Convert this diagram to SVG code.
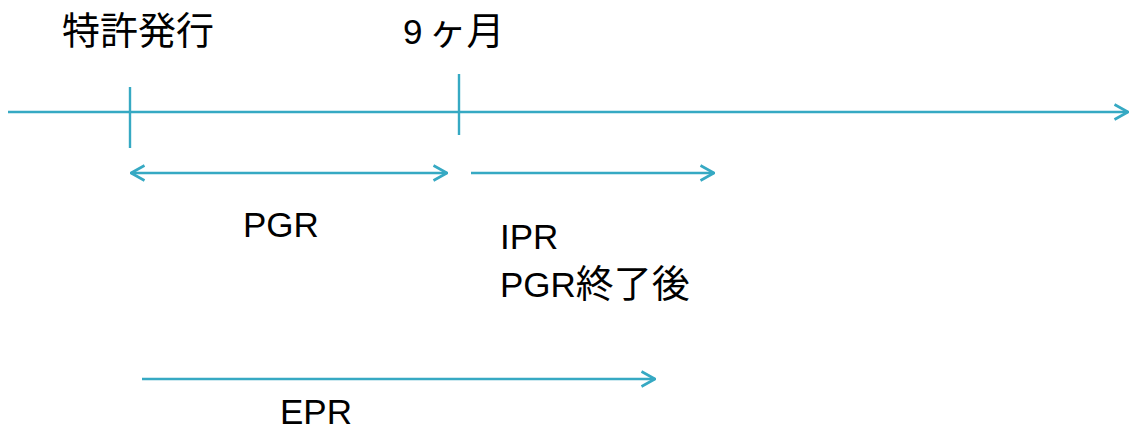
<svg xmlns="http://www.w3.org/2000/svg" width="1130" height="434" viewBox="0 0 1130 434">
<style>
.ln{stroke:#36A9C3;stroke-width:2.4;fill:none}
.t{font-family:"Liberation Sans","Noto Sans CJK JP",sans-serif;font-size:35px;fill:#000}
.j{font-family:"Noto Sans CJK JP",sans-serif;font-size:38px}
</style>
<defs>
<marker id="ah" viewBox="0 0 16 18" refX="15" refY="9" markerWidth="16" markerHeight="18" markerUnits="userSpaceOnUse" orient="auto-start-reverse">
<path d="M1.5,1.5 L15,9 L1.5,16.5" fill="none" stroke="#36A9C3" stroke-width="2.6"/>
</marker>
</defs>
<rect width="1130" height="434" fill="#fff"/>
<g id="connectors">
<line class="ln" x1="8" y1="112" x2="1128" y2="112" marker-end="url(#ah)"/>
<line class="ln" x1="130" y1="87" x2="130" y2="148"/>
<line class="ln" x1="459" y1="74" x2="459" y2="135"/>
<line class="ln" x1="131" y1="173" x2="447" y2="173" marker-start="url(#ah)" marker-end="url(#ah)"/>
<line class="ln" x1="471" y1="173" x2="714" y2="173" marker-end="url(#ah)"/>
<line class="ln" x1="142" y1="379" x2="655" y2="379" marker-end="url(#ah)"/>
</g>
<g id="issue"><text class="t" x="62" y="44"><tspan class="j">特許発行</tspan></text></g>
<g id="nine"><text class="t" x="403" y="44">9<tspan class="j" dx="6">ヶ月</tspan></text></g>
<g id="pgr"><text class="t" x="243" y="237">PGR</text></g>
<g id="ipr"><text class="t" x="500" y="249">IPR</text><text class="t" x="500" y="297">PGR<tspan class="j">終了後</tspan></text></g>
<g id="epr"><text class="t" x="280" y="424">EPR</text></g>
</svg>
